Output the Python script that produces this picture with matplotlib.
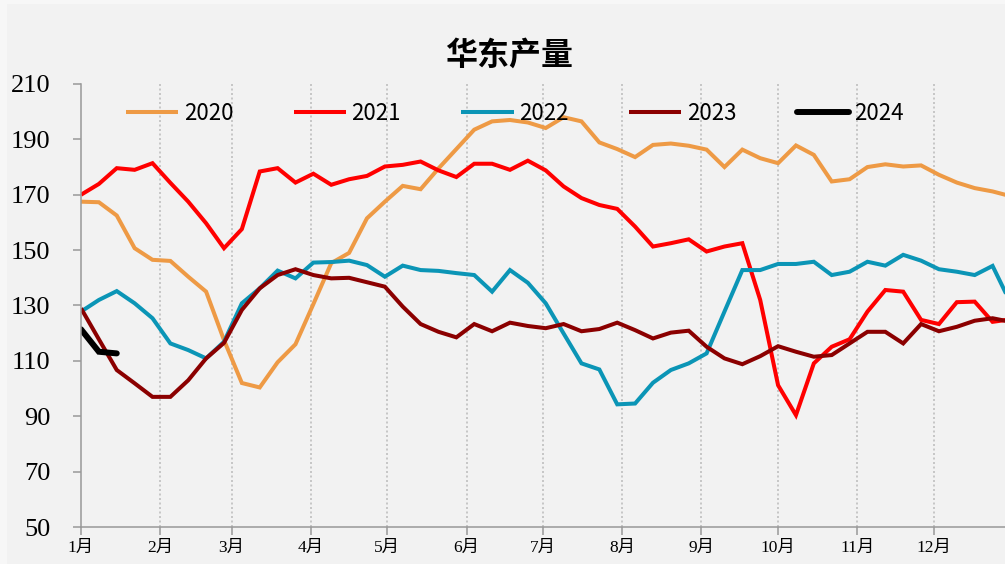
import matplotlib
matplotlib.use("Agg")
import matplotlib.pyplot as plt
from matplotlib.patches import Rectangle
import numpy as np

# weekly values, week 0 = Jan 1
y2020 = [167.5, 167.3, 162.5, 150.7, 146.5, 146.1, 140.4, 135.0, 117.5, 102.0,
         100.4, 109.5, 116.0, 130.5, 145.3, 149.0, 161.5, 167.5, 173.2, 172.0,
         179.5, 186.5, 193.5, 196.5, 197.0, 196.1, 194.1, 198.0, 196.5, 188.9,
         186.5, 183.6, 188.0, 188.5, 187.7, 186.3, 180.0, 186.3, 183.2, 181.4,
         187.8, 184.4, 174.8, 175.6, 180.0, 181.0, 180.2, 180.6, 177.2, 174.4,
         172.4, 171.2, 169.5]
y2021 = [170.0, 173.9, 179.6, 179.0, 181.4, 174.3, 167.5, 159.7, 150.7, 157.6,
         178.4, 179.6, 174.4, 177.6, 173.6, 175.6, 176.8, 180.2, 180.8, 182.0,
         178.8, 176.4, 181.2, 181.2, 179.0, 182.3, 178.8, 173.0, 168.8, 166.3,
         164.9, 158.5, 151.3, 152.5, 153.9, 149.5, 151.3, 152.5, 132.0, 101.2,
         90.4, 109.1, 115.1, 117.8, 127.8, 135.6, 135.0, 124.8, 123.3, 131.2,
         131.4, 124.1, 125.0]
y2022 = [127.8, 132.0, 135.2, 130.8, 125.4, 116.3, 113.9, 110.9, 116.9, 130.8,
         136.2, 142.6, 139.8, 145.5, 145.7, 146.2, 144.6, 140.4, 144.4, 142.8,
         142.5, 141.7, 141.0, 135.0, 142.8, 138.2, 130.8, 119.9, 109.1, 106.9,
         94.3, 94.6, 102.1, 106.7, 109.1, 112.7, 127.8, 142.8, 142.8, 145.0,
         145.0, 145.8, 141.0, 142.2, 145.8, 144.4, 148.3, 146.2, 143.1, 142.2,
         141.0, 144.3, 131.0]
y2023 = [129.0, 117.8, 106.7, 101.9, 97.0, 97.0, 103.0, 110.9, 116.5, 128.4,
         136.2, 141.0, 143.1, 141.0, 139.8, 140.0, 138.4, 136.8, 129.6, 123.3,
         120.5, 118.5, 123.3, 120.7, 123.8, 122.6, 121.8, 123.3, 120.7, 121.5,
         123.8, 121.1, 118.1, 120.2, 120.9, 115.1, 110.9, 108.8, 111.7, 115.3,
         113.3, 111.5, 112.1, 116.3, 120.5, 120.5, 116.3, 123.3, 120.7, 122.3,
         124.5, 125.4, 124.1]
y2024 = [121.4, 113.3, 112.7]

series = [("2020", y2020, "#EE9A45"), ("2021", y2021, "#FF0000"),
          ("2022", y2022, "#0B95B6"), ("2023", y2023, "#8B0000"),
          ("2024", y2024, "#000000")]

months = ["1月", "2月", "3月", "4月", "5月", "6月",
          "7月", "8月", "9月", "10月", "11月", "12月"]
month_start = [0, 31, 59, 90, 120, 151, 181, 212, 243, 273, 304, 334]

fig = plt.figure(figsize=(10.05, 5.64), dpi=100, facecolor="#f7f7f7")
fig.patches.append(Rectangle((7 / 1005, 0), 1, 1 - 4 / 564, transform=fig.transFigure,
                             facecolor="#f2f2f2", edgecolor="none", zorder=-10))

ax = fig.add_axes([81 / 1005, 37 / 564, 932 / 1005, 443 / 564])
ax.set_facecolor("#f2f2f2")

for name, vals, col in series:
    days = np.arange(len(vals)) * 7
    lw = 4.3 if name == "2024" else 2.9
    ax.plot(days, vals, color=col, lw=lw, label=name, solid_joinstyle="miter",
            solid_capstyle="round" if name == "2024" else "butt")

ax.set_xlim(0, 365)
ax.set_ylim(50, 210)
ax.set_yticks(range(50, 211, 20))
ax.set_xticks(month_start)
ax.set_xticklabels(months, fontfamily=["Liberation Serif", "Noto Sans CJK SC"],
                   fontsize=12.5)
for lab in ax.get_yticklabels():
    lab.set_fontfamily("Liberation Serif")
    lab.set_fontsize(19)

for d in month_start[1:]:
    ax.axvline(d, color="#bfbfbf", lw=1.2, ls=(0, (1.2, 1.5)), zorder=0)

for s in ["top", "right"]:
    ax.spines[s].set_visible(False)
for s in ["left", "bottom"]:
    ax.spines[s].set_color("#999999")
    ax.spines[s].set_linewidth(1.1)
ax.tick_params(axis="y", colors="#999999", labelcolor="black", length=6, width=1.1, pad=16)
ax.tick_params(axis="x", colors="#999999", labelcolor="black", length=6, width=1.1, pad=3)

fig.text(509 / 1005, 1 - 56 / 564, "华东产量", ha="center", va="center",
         fontsize=23, fontweight="bold", family=["Noto Sans CJK SC"])

leg = ax.legend(ncol=5, loc="center", bbox_to_anchor=(515 / 1005, 1 - 113 / 564),
                bbox_transform=fig.transFigure, frameon=False,
                prop={"family": "Noto Sans CJK SC", "size": 16},
                handlelength=2.35, handletextpad=0.25, columnspacing=2.72)

fig.savefig("out.png", dpi=100, facecolor=fig.get_facecolor())
